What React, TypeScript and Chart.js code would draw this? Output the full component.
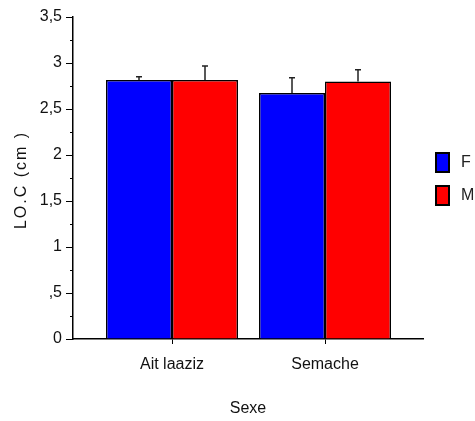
import React, { useEffect, useRef } from 'react';
import { Chart, registerables } from 'chart.js';

Chart.register(...registerables);

const categories = ['Ait laaziz', 'Semache'];
const seriesLabels = ['F', 'M'];
const seriesF = [2.815, 2.674];
const seriesM = [2.815, 2.8];
const errF = [0.036, 0.166];
const errM = [0.152, 0.127];
const yTickLabels = ['0', ',5', '1', '1,5', '2', '2,5', '3', '3,5'];
const yTitle = 'LO.C (cm )';
const colors = ['#0000FF', '#FF0000'];

const errorBars = {
  id: 'errorBars',
  afterDatasetsDraw(chart: any) {
    const ctx = chart.ctx;
    const yScale = chart.scales.y;
    const errs = [errF, errM];
    ctx.save();
    ctx.strokeStyle = '#222';
    ctx.lineWidth = 1.5;
    chart.data.datasets.forEach((ds: any, di: number) => {
      const meta = chart.getDatasetMeta(di);
      meta.data.forEach((bar: any, i: number) => {
        const v = ds.data[i].y;
        const top = yScale.getPixelForValue(v + errs[di][i]);
        ctx.beginPath();
        ctx.moveTo(bar.x, bar.y);
        ctx.lineTo(bar.x, top);
        ctx.moveTo(bar.x - 3, top);
        ctx.lineTo(bar.x + 3, top);
        ctx.stroke();
      });
    });
    ctx.restore();
  },
};

const minorTicks = {
  id: 'minorTicks',
  afterDraw(chart: any) {
    const ctx = chart.ctx;
    const y = chart.scales.y;
    const left = chart.chartArea.left;
    ctx.save();
    ctx.strokeStyle = '#000';
    ctx.lineWidth = 1;
    for (let k = 0; k < 7; k++) {
      const v = 0.25 + k * 0.5;
      const py = Math.round(y.getPixelForValue(v)) + 0.5;
      ctx.beginPath();
      ctx.moveTo(left - 3, py);
      ctx.lineTo(left, py);
      ctx.stroke();
    }
    ctx.restore();
  },
};

const yTitlePlugin = {
  id: 'yTitlePlugin',
  afterDraw(chart: any) {
    const ctx = chart.ctx;
    const area = chart.chartArea;
    ctx.save();
    ctx.translate(22, (area.top + area.bottom) / 2 + 2);
    ctx.rotate(-Math.PI / 2);
    ctx.fillStyle = '#111';
    ctx.font = '16px "Liberation Sans", Arial, sans-serif';
    (ctx as any).letterSpacing = '2px';
    ctx.textAlign = 'center';
    ctx.textBaseline = 'middle';
    ctx.fillText(yTitle, 0, 0);
    ctx.restore();
  },
};

const customLegend = {
  id: 'customLegend',
  afterDraw(chart: any) {
    const ctx = chart.ctx;
    ctx.save();
    chart.data.datasets.forEach((ds: any, i: number) => {
      const bx = 435;
      const by = 152 + i * 33;
      ctx.fillStyle = '#000';
      ctx.fillRect(bx, by, 15, 21);
      ctx.fillStyle = ds.backgroundColor;
      ctx.fillRect(bx + 2, by + 2, 11, 17);
      ctx.fillStyle = '#222';
      ctx.font = '16px "Liberation Sans", Arial, sans-serif';
      ctx.textBaseline = 'middle';
      ctx.textAlign = 'left';
      ctx.fillText(ds.label, 461, by + 11);
    });
    ctx.restore();
  },
};

export default function App() {
  const ref = useRef<HTMLCanvasElement>(null);
  useEffect(() => {
    document.body.style.margin = '0';
    const ctx = ref.current!.getContext('2d')!;
    const mk = (vals: number[]) => vals.map((y, i) => ({ x: i + 1, y }));
    const chart = new Chart(ctx, {
      type: 'bar',
      data: {
        datasets: [
          {
            label: seriesLabels[0],
            data: mk(seriesF),
            backgroundColor: colors[0],
            borderColor: '#000',
            borderWidth: 1.5,
            barPercentage: 1,
            categoryPercentage: 0.8627,
          },
          {
            label: seriesLabels[1],
            data: mk(seriesM),
            backgroundColor: colors[1],
            borderColor: '#000',
            borderWidth: 1.5,
            barPercentage: 1,
            categoryPercentage: 0.8627,
          },
        ],
      },
      options: {
        responsive: false,
        animation: false,
        layout: { padding: { left: 0, top: 17, right: 52, bottom: 0 } },
        plugins: { legend: { display: false }, tooltip: { enabled: false } },
        scales: {
          x: {
            type: 'linear',
            min: 0.3529,
            max: 2.6405,
            offset: false,
            afterBuildTicks: (axis: any) => {
              axis.ticks = categories.map((_, i) => ({ value: i + 1 }));
            },
            afterFit: (axis: any) => {
              axis.height = 82;
            },
            ticks: {
              color: '#111',
              font: { family: '"Liberation Sans", Arial, sans-serif', size: 16 },
              padding: 11,
              maxRotation: 0,
              callback: (v: any) => categories[Math.round(v) - 1] ?? '',
            },
            grid: { display: true, drawOnChartArea: false, offset: false, tickLength: 5, color: '#000', lineWidth: 1 },
            border: { display: true, color: '#000', width: 1.5 },
            title: {
              display: true,
              text: 'Sexe',
              color: '#111',
              font: { family: '"Liberation Sans", Arial, sans-serif', size: 16 },
              padding: { top: 0, bottom: 3 },
            },
          },
          y: {
            min: 0,
            max: 3.5,
            afterFit: (axis: any) => {
              axis.width = 73;
            },
            ticks: {
              stepSize: 0.5,
              color: '#111',
              padding: 4,
              font: { family: '"Liberation Sans Narrow", "Liberation Sans", Arial, sans-serif', size: 16 },
              callback: (v: any) => yTickLabels[Math.round(Number(v) / 0.5)] ?? '',
            },
            grid: { display: true, drawOnChartArea: false, tickLength: 7, color: '#000', lineWidth: 1 },
            border: { display: true, color: '#000', width: 1.5 },
            title: { display: false },
          },
        },
      },
      plugins: [errorBars, minorTicks, yTitlePlugin, customLegend],
    });
    return () => chart.destroy();
  }, []);
  return <canvas ref={ref} width={475} height={421} style={{ display: 'block' }} />;
}
